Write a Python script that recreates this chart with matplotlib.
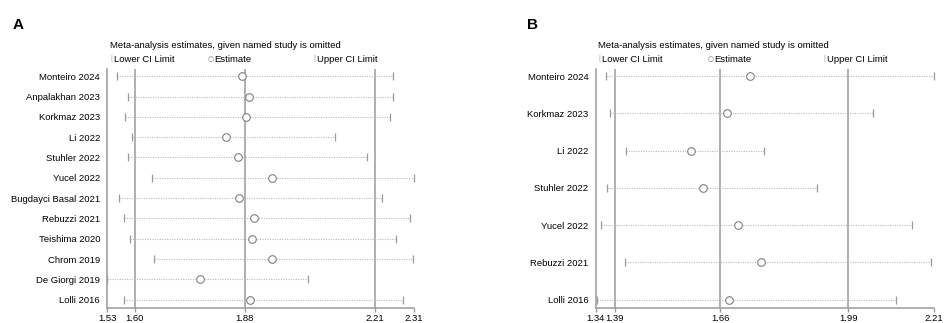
import matplotlib
matplotlib.use("Agg")
import matplotlib.pyplot as plt

plt.rcParams['font.family'] = ['Liberation Sans', 'DejaVu Sans']

# Panel A data
studies_a = ["Monteiro 2024", "Anpalakhan 2023", "Korkmaz 2023", "Li 2022", "Stuhler 2022",
             "Yucel 2022", "Bugdayci Basal 2021", "Rebuzzi 2021", "Teishima 2020",
             "Chrom 2019", "De Giorgi 2019", "Lolli 2016"]
lower_a = [1.556, 1.584, 1.577, 1.593, 1.584, 1.645, 1.561, 1.574, 1.589, 1.650, 1.530, 1.574]
est_a = [1.874, 1.890, 1.883, 1.832, 1.862, 1.948, 1.865, 1.903, 1.898, 1.950, 1.767, 1.893]
upper_a = [2.256, 2.257, 2.249, 2.109, 2.190, 2.311, 2.229, 2.300, 2.265, 2.307, 2.041, 2.281]
ref_a = [1.60, 1.88, 2.21]
ticks_a = [1.53, 1.60, 1.88, 2.21, 2.31]

# Panel B data
studies_b = ["Monteiro 2024", "Korkmaz 2023", "Li 2022", "Stuhler 2022",
             "Yucel 2022", "Rebuzzi 2021", "Lolli 2016"]
lower_b = [1.366, 1.376, 1.419, 1.369, 1.353, 1.416, 1.344]
est_b = [1.737, 1.678, 1.586, 1.617, 1.706, 1.765, 1.683]
upper_b = [2.210, 2.053, 1.774, 1.909, 2.153, 2.202, 2.113]
ref_b = [1.39, 1.66, 1.99]
ticks_b = [1.34, 1.39, 1.66, 1.99, 2.21]

W, H = 944, 323
fig = plt.figure(figsize=(W / 100, H / 100), dpi=100)

GRAY = '#9a9a9a'
DOT = '#b8b8b8'
FS = 6.8


def panel(x0, x1, y0, y1, studies, lo, est, up, ref, ticks, letter, letter_x, legend_x):
    ax = fig.add_axes([x0 / W, 1 - y1 / H, (x1 - x0) / W, (y1 - y0) / H])
    n = len(studies)
    ys = list(range(n))
    pad_top = 7.2
    pad_bot = 8.3
    row = (y1 - y0 - pad_top - pad_bot) / (n - 1)
    ax.set_ylim(n - 1 + pad_bot / row, -pad_top / row)
    ax.set_xlim(ticks[0], ticks[-1])
    for r in ref:
        ax.axvline(r, color=GRAY, lw=1.1, zorder=1)
    for i in ys:
        ax.plot([lo[i], up[i]], [i, i], color=DOT, lw=0.8, ls=(0, (1, 1.2)), zorder=2)
    ax.plot(lo, ys, ls='none', marker='|', ms=6, mew=0.9, color=GRAY, zorder=3, clip_on=False)
    ax.plot(up, ys, ls='none', marker='|', ms=6, mew=0.9, color=GRAY, zorder=3, clip_on=False)
    ax.plot(est, ys, ls='none', marker='o', ms=5.5, mfc='white', mec='#808080', mew=0.8, zorder=4)
    ax.set_yticks(ys)
    ax.set_yticklabels(studies, fontsize=FS)
    ax.tick_params(axis='y', length=0, pad=5)
    ax.set_xticks(ticks)
    ax.set_xticklabels([f"{t:.2f}" for t in ticks], fontsize=FS)
    ax.tick_params(axis='x', length=3, color=GRAY, width=1, pad=1)
    for s in ['top', 'right']:
        ax.spines[s].set_visible(False)
    for s in ['left', 'bottom']:
        ax.spines[s].set_color(GRAY)
        ax.spines[s].set_linewidth(1.1)
    # header texts
    fig.text(legend_x[0] / W, 1 - 46 / H, "Meta-analysis estimates, given named study is omitted",
             fontsize=FS, va='center', ha='left')
    fig.text(legend_x[0] / W, 1 - 59 / H, "|", fontsize=5.5, color=GRAY, va='center', ha='left')
    fig.text((legend_x[0] + 4) / W, 1 - 59 / H, "Lower CI Limit", fontsize=FS, va='center', ha='left')
    fig.text(legend_x[1] / W, 1 - 59 / H, "\u25cb", fontsize=5, color='#707070', va='center', ha='left',
             family=['DejaVu Sans'])
    fig.text((legend_x[1] + 6) / W, 1 - 59 / H, "Estimate", fontsize=FS, va='center', ha='left')
    fig.text(legend_x[2] / W, 1 - 59 / H, "|", fontsize=5.5, color=GRAY, va='center', ha='left')
    fig.text((legend_x[2] + 4) / W, 1 - 59 / H, "Upper CI Limit", fontsize=FS, va='center', ha='left')
    fig.text(letter_x / W, 1 - 25 / H, letter, fontsize=11, fontweight='bold', va='center', ha='left')
    return ax


panel(107, 414, 69, 308, studies_a, lower_a, est_a, upper_a, ref_a, ticks_a, "A", 13, [110, 208, 313])
panel(595.5, 934, 69, 308, studies_b, lower_b, est_b, upper_b, ref_b, ticks_b, "B", 527, [598, 708, 823])

fig.savefig("out.png", dpi=100)
